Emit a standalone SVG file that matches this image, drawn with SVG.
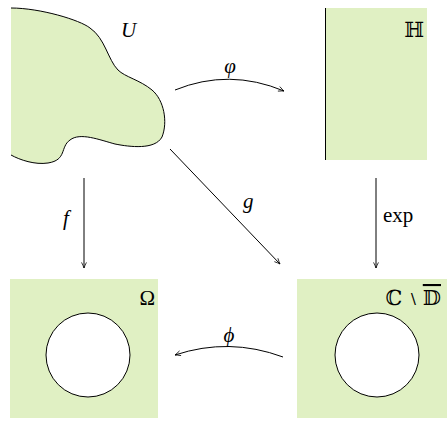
<svg xmlns="http://www.w3.org/2000/svg" width="447" height="427" viewBox="0 0 447 427">
<defs>
<style>
.fill{fill:#e0f0c3;stroke:none}
.edge{fill:none;stroke:#000;stroke-width:1}
.lbl{font-family:"Liberation Serif","DejaVu Serif",serif;font-size:21px;fill:#000}
.it{font-style:italic}
.hole{fill:#fff;stroke:#000;stroke-width:1}
</style>
<marker id="ar" viewBox="0 0 10 10" refX="9" refY="5" markerWidth="7" markerHeight="7" markerUnits="userSpaceOnUse" orient="auto">
<path d="M1,1.5 Q6,4 9,5 Q6,6 1,8.5" fill="none" stroke="#000" stroke-width="1.1"/>
</marker>
</defs>
<g id="U">
<path class="fill" d="M11,8 C40,8 80,20 90,28 C105,38 108,60 118,70 C125,77 140,80 152,90 C164,100 168,122 162,137 C155,150 130,147 115,144 C100,140 80,132 70,140 C60,147 67,160 48,163 C35,165 20,160 11,155 Z"/>
<path class="edge" d="M11,8 C40,8 80,20 90,28 C105,38 108,60 118,70 C125,77 140,80 152,90 C164,100 168,122 162,137 C155,150 130,147 115,144 C100,140 80,132 70,140 C60,147 67,160 48,163 C35,165 20,160 11,155"/>
<text class="lbl it" x="121" y="37">U</text>
</g>
<g id="H">
<rect class="fill" x="325" y="8" width="102" height="152"/>
<line class="edge" x1="325.5" y1="8" x2="325.5" y2="160" stroke-width="1.3"/>
<text class="lbl" x="424" y="37" text-anchor="end">ℍ</text>
</g>
<g id="Omega">
<rect class="fill" x="10" y="279" width="148" height="139"/>
<circle class="hole" cx="88" cy="355" r="42"/>
<text class="lbl" x="155" y="305" text-anchor="end">Ω</text>
</g>
<g id="CminusD">
<rect class="fill" x="297" y="279" width="150" height="139"/>
<circle class="hole" cx="377" cy="355" r="42"/>
<text class="lbl" x="441" y="305" text-anchor="end">ℂ <tspan font-size="15">∖</tspan> <tspan text-decoration="overline">𝔻</tspan></text>
</g>
<g id="connectors">
<path class="edge" d="M175,90 Q229,68 284,91" marker-end="url(#ar)"/>
<text class="lbl it" x="230" y="73" text-anchor="middle">φ</text>
<line class="edge" x1="170" y1="149" x2="280" y2="264" marker-end="url(#ar)"/>
<text class="lbl it" x="243" y="208">g</text>
<line class="edge" x1="84" y1="178" x2="84" y2="268" marker-end="url(#ar)"/>
<text class="lbl it" x="63" y="225">f</text>
<line class="edge" x1="376" y1="178" x2="376" y2="268" marker-end="url(#ar)"/>
<text class="lbl" x="383" y="222">exp</text>
<path class="edge" d="M283,357 Q229,337 175,355" marker-end="url(#ar)"/>
<text class="lbl it" x="229" y="342" text-anchor="middle">ϕ</text>
</g>
</svg>
